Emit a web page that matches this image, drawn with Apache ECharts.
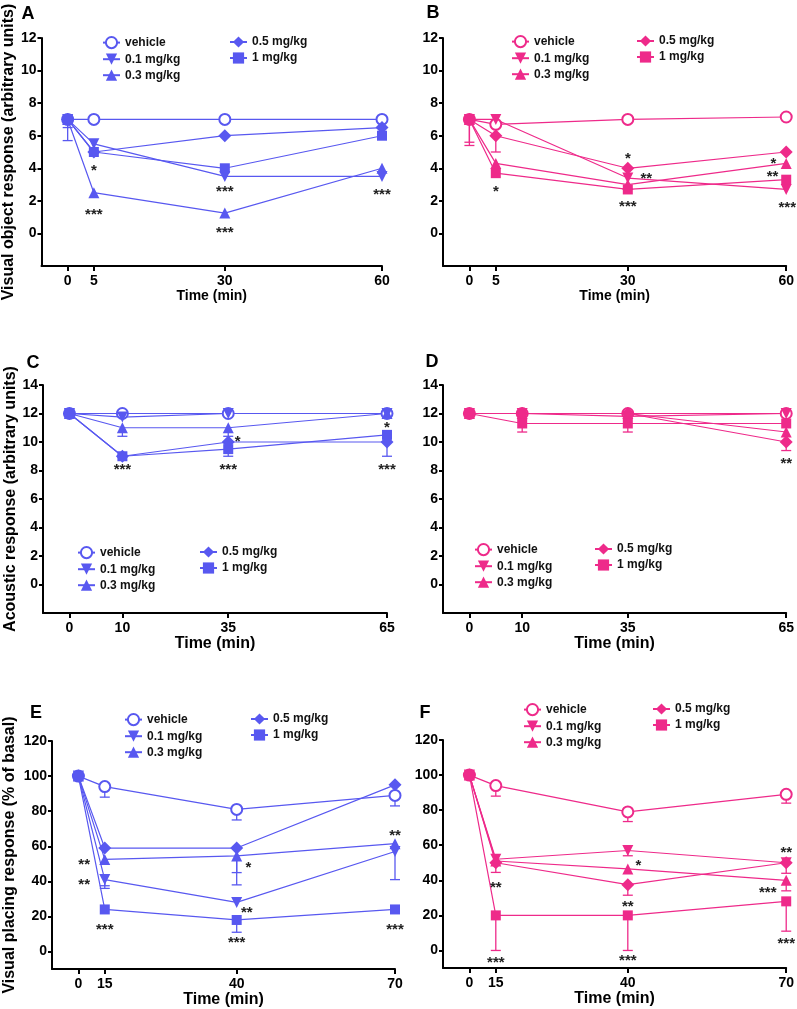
<!DOCTYPE html>
<html>
<head>
<meta charset="utf-8">
<script src="https://cdn.jsdelivr.net/npm/echarts@6/dist/echarts.min.js"></script>
<style>
  html, body { margin: 0; padding: 0; background: #fff; }
  #main { width: 797px; height: 1009px; }
</style>
</head>
<body>
<div id="main"></div>
<script>
var BLUE = '#5858f0';
var PINK = '#ee2a8a';
var FONT = 'Liberation Sans, Arial, sans-serif';

var groupNames = ['vehicle', '0.1 mg/kg', '0.3 mg/kg', '0.5 mg/kg', '1 mg/kg'];

// plotted x positions and the labels printed under them
var xPosAB = [0, 5, 30, 60];
var xLabelsAB = ['0', '5', '30', '60'];
var xPosCD = [0, 10, 30, 60];
var xLabelsCD = ['0', '10', '35', '65'];
var xPosEF = [0, 5, 30, 60];
var xLabelsEF = ['0', '15', '40', '70'];

var yTicksAB = [0, 2, 4, 6, 8, 10, 12];
var yTicksCD = [0, 2, 4, 6, 8, 10, 12, 14];
var yTicksEF = [0, 20, 40, 60, 80, 100, 120];

// values per group: vehicle, 0.1, 0.3, 0.5, 1 mg/kg
var valsA = [
  [7, 7, 7, 7],
  [7, 5.5, 3.5, 3.5],
  [7, 2.5, 1.25, 4],
  [7, 5, 6, 6.5],
  [7, 5, 4, 6]
];
var valsB = [
  [7, 6.7, 7, 7.15],
  [7, 7, 3.4, 2.7],
  [7, 4.3, 3.0, 4.3],
  [7, 6, 4, 5],
  [7, 3.7, 2.7, 3.3]
];
var valsC = [
  [12, 12, 12, 12],
  [12, 11.75, 12, 12],
  [12, 11, 11, 12],
  [12, 9, 10, 10],
  [12, 9, 9.5, 10.5]
];
var valsD = [
  [12, 12, 12, 12],
  [12, 12, 11.8, 12],
  [12, 12, 12, 10.7],
  [12, 12, 12, 10],
  [12, 11.3, 11.3, 11.3]
];
var valsE = [
  [100, 94, 81, 89],
  [100, 41, 28, 57],
  [100, 52.5, 54.5, 61.5],
  [100, 59, 59, 95],
  [100, 24, 18, 24]
];
var valsF = [
  [100, 94, 79, 89],
  [100, 52, 57, 50],
  [100, 51, 46.5, 40],
  [100, 50, 37.5, 50],
  [100, 20, 20, 28]
];

// error bars: [x position, mean, end of bar]
var errA = [[0, 7, 5.7], [0, 7, 6.5]];
var errB = [[0, 7, 5.6], [0, 7, 5.4], [5, 6, 5.0]];
var errC = [[10, 11, 10.4], [30, 11, 10.4], [30, 9.5, 9.0], [60, 10, 9.0]];
var errD = [[10, 11.3, 10.7], [30, 11.3, 10.7], [60, 10, 9.4]];
var errE = [[5, 94, 88], [30, 81, 75], [60, 89, 83], [5, 41, 36], [5, 41, 37.5],
  [30, 54.5, 38], [30, 54.5, 45], [60, 57, 41], [30, 18, 11]];
var errF = [[5, 94, 88], [30, 79, 73.5], [60, 89, 84], [30, 57, 54], [5, 50, 44.5],
  [30, 37.5, 31.5], [60, 50, 44], [60, 40, 34], [5, 20, 0], [30, 20, 0], [60, 28, 11]];

// significance marks: [x position, y, text]
var starsA = [[5, 4.1, '*'], [5, 1.4, '***'], [30, 2.8, '***'], [30, 0.3, '***'], [60, 2.6, '***']];
var starsB = [[5, 2.8, '*'], [30, 4.85, '*'], [33.5, 3.6, '**'], [30, 1.85, '***'],
  [57.6, 4.5, '*'], [57.4, 3.7, '**'], [60.2, 1.8, '***']];
var starsC = [[10, 8.3, '***'], [31.8, 10.3, '*'], [30, 8.3, '***'], [60, 11.3, '*'], [60, 8.35, '***']];
var starsD = [[60, 8.75, '**']];
var starsE = [[1.1, 51.6, '**'], [1.1, 40.2, '**'], [5, 14.7, '***'], [32.2, 49.7, '*'],
  [31.9, 24.6, '**'], [30, 7.2, '***'], [60, 68, '**'], [60, 14.7, '***']];
var starsF = [[5, 38, '**'], [5, -4.6, '***'], [32, 50.8, '*'], [30, 27.1, '**'],
  [30, -3.8, '***'], [60, 58, '**'], [56.5, 35.3, '***'], [60, 6.3, '***']];

var symbols = ['emptyCircle', 'triangle', 'triangle', 'diamond', 'rect'];
var symbolRot = [0, 180, 0, 0, 0];
var symbolSizes = [11, 11, 11, 13, 10];

var panels = [
  { key: 'A', color: BLUE, vals: valsA, err: errA, stars: starsA, xPos: xPosAB, xLabels: xLabelsAB,
    yMin: -2, yMax: 12, yTicks: yTicksAB, yName: 'Visual object response (arbitrary units)', xNameSize: 14,
    grid: { left: 40, top: 38, width: 342, height: 228 }, leg: [110, 237, 42], letter: [28, 14], yGap: 24 },
  { key: 'B', color: PINK, vals: valsB, err: errB, stars: starsB, xPos: xPosAB, xLabels: xLabelsAB,
    yMin: -2, yMax: 12, yTicks: yTicksAB, yName: '', xNameSize: 14,
    grid: { left: 443, top: 38, width: 344, height: 228 }, leg: [519, 644, 41], letter: [433, 13], yGap: 24 },
  { key: 'C', color: BLUE, vals: valsC, err: errC, stars: starsC, xPos: xPosCD, xLabels: xLabelsCD,
    yMin: -2, yMax: 14, yTicks: yTicksCD, yName: 'Acoustic response (arbitrary units)', xNameSize: 16,
    grid: { left: 43, top: 385, width: 344, height: 228 }, leg: [85, 207, 552], letter: [33, 363], yGap: 24 },
  { key: 'D', color: PINK, vals: valsD, err: errD, stars: starsD, xPos: xPosCD, xLabels: xLabelsCD,
    yMin: -2, yMax: 14, yTicks: yTicksCD, yName: '', xNameSize: 16,
    grid: { left: 443, top: 385, width: 344, height: 228 }, leg: [482, 602, 549], letter: [432, 362], yGap: 24 },
  { key: 'E', color: BLUE, vals: valsE, err: errE, stars: starsE, xPos: xPosEF, xLabels: xLabelsEF,
    yMin: -10, yMax: 120, yTicks: yTicksEF, yName: 'Visual placing response (% of basal)', xNameSize: 16,
    grid: { left: 52, top: 741, width: 343, height: 229 }, leg: [132, 258, 719], letter: [36, 713], yGap: 34 },
  { key: 'F', color: PINK, vals: valsF, err: errF, stars: starsF, xPos: xPosEF, xLabels: xLabelsEF,
    yMin: -10, yMax: 120, yTicks: yTicksEF, yName: '', xNameSize: 16,
    grid: { left: 443, top: 740, width: 344, height: 228 }, leg: [531, 660, 709], letter: [425, 713], yGap: 24 }
];

var option = {
  animation: false,
  backgroundColor: '#fff',
  grid: [], xAxis: [], yAxis: [], legend: [], series: [], graphic: []
};

var stripName = function (name) { return name.split('#')[0]; };

panels.forEach(function (p, i) {
  option.grid.push(p.grid);

  option.xAxis.push({
    gridIndex: i, type: 'value', min: -5, max: 60,
    axisLine: { onZero: false, lineStyle: { color: '#000', width: 2 } },
    axisTick: { customValues: p.xPos, length: 5, lineStyle: { color: '#000', width: 2 } },
    axisLabel: {
      customValues: p.xPos, margin: 8, color: '#000', fontSize: 14, fontWeight: 'bold', fontFamily: FONT,
      formatter: function (v) { return p.xLabels[p.xPos.indexOf(v)]; }
    },
    splitLine: { show: false },
    name: 'Time (min)', nameLocation: 'middle', nameGap: 22,
    nameTextStyle: { color: '#000', fontSize: p.xNameSize, fontWeight: 'bold', fontFamily: FONT }
  });

  option.yAxis.push({
    gridIndex: i, type: 'value', min: p.yMin, max: p.yMax,
    axisLine: { onZero: false, lineStyle: { color: '#000', width: 2 } },
    axisTick: { customValues: p.yTicks, length: 4, lineStyle: { color: '#000', width: 2 } },
    axisLabel: { customValues: p.yTicks, margin: 5, color: '#000', fontSize: 14, fontWeight: 'bold', fontFamily: FONT },
    splitLine: { show: false },
    name: p.yName, nameLocation: 'middle', nameGap: p.yGap,
    nameTextStyle: { color: '#000', fontSize: 16, fontWeight: 'bold', fontFamily: FONT }
  });

  var names = groupNames.map(function (n) { return n + '#' + p.key; });

  p.vals.forEach(function (row, s) {
    option.series.push({
      name: names[s], type: 'line', xAxisIndex: i, yAxisIndex: i,
      data: p.xPos.map(function (x, j) { return [x, row[j]]; }),
      symbol: symbols[s], symbolRotate: symbolRot[s], symbolSize: symbolSizes[s],
      showAllSymbol: true, color: p.color,
      itemStyle: { color: p.color, borderColor: p.color, borderWidth: s === 0 ? 1.3 : 0 },
      lineStyle: { color: p.color, width: 1.2 },
      z: 3
    });
  });

  option.series.push({
    type: 'custom', xAxisIndex: i, yAxisIndex: i, z: 2,
    data: p.err,
    renderItem: function (params, api) {
      var a = api.coord([api.value(0), api.value(1)]);
      var b = api.coord([api.value(0), api.value(2)]);
      var st = { stroke: p.color, lineWidth: 1.3 };
      return {
        type: 'group',
        children: [
          { type: 'line', shape: { x1: a[0], y1: a[1], x2: b[0], y2: b[1] }, style: st },
          { type: 'line', shape: { x1: b[0] - 5, y1: b[1], x2: b[0] + 5, y2: b[1] }, style: st }
        ]
      };
    }
  });

  option.series.push({
    type: 'custom', xAxisIndex: i, yAxisIndex: i, z: 4,
    data: p.stars,
    renderItem: function (params, api) {
      var c = api.coord([api.value(0), api.value(1)]);
      return {
        type: 'text', x: c[0], y: c[1] + 4,
        style: {
          text: p.stars[params.dataIndex][2], align: 'center', verticalAlign: 'middle',
          fontSize: 15, fontWeight: 'bold', fontFamily: FONT, fill: '#222'
        }
      };
    }
  });

  var legBase = {
    orient: 'vertical', itemWidth: 17, itemHeight: 14, itemGap: 4, selectedMode: false,
    formatter: stripName, padding: 0,
    textStyle: { color: '#111', fontSize: 12, fontWeight: 'bold', fontFamily: FONT }
  };
  option.legend.push(Object.assign({}, legBase, { data: names.slice(0, 3), left: p.leg[0] - 8, top: p.leg[2] - 6 }));
  option.legend.push(Object.assign({}, legBase, { data: names.slice(3), left: p.leg[1] - 8, top: p.leg[2] - 6 }));

  option.graphic.push({
    type: 'text', x: p.letter[0], y: p.letter[1],
    style: { text: p.key, align: 'center', verticalAlign: 'middle', fontSize: 18, fontWeight: 'bold', fontFamily: FONT, fill: '#000' }
  });
});

var chart = echarts.init(document.getElementById('main'));
chart.setOption(option);
</script>
</body>
</html>
